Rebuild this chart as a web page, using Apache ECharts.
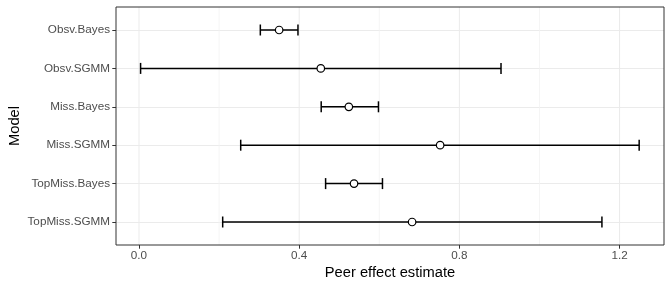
<!DOCTYPE html>
<html>
<head>
<meta charset="utf-8">
<script src="https://cdn.jsdelivr.net/npm/echarts@6/dist/echarts.min.js"></script>
<style>
html,body{margin:0;padding:0;background:#fff;}
#chart{width:672px;height:288px;}
</style>
</head>
<body>
<div id="chart"></div>
<script>
// ---- data ----
const models = ['Obsv.Bayes', 'Obsv.SGMM', 'Miss.Bayes', 'Miss.SGMM', 'TopMiss.Bayes', 'TopMiss.SGMM'];
const estimates = [0.350, 0.454, 0.524, 0.752, 0.537, 0.682];
const lowers    = [0.303, 0.004, 0.455, 0.254, 0.466, 0.209];
const uppers    = [0.397, 0.904, 0.598, 1.249, 0.608, 1.156];
const xTicks = [0.0, 0.4, 0.8, 1.2];
const xMinorTicks = [0.2, 0.6, 1.0];

// ---- layout ----
const PANEL_LEFT = 116, PANEL_TOP = 7, PANEL_W = 548, PANEL_H = 238;
const X_MIN = -0.0574, X_MAX = 1.311;
const FONT = 'Liberation Sans, Arial, Helvetica, sans-serif';

const chart = echarts.init(document.getElementById('chart'), null, {renderer: 'canvas'});

const gridLineData = xTicks.map(v => [v, 1]).concat(xMinorTicks.map(v => [v, 0]));

const option = {
  animation: false,
  backgroundColor: '#ffffff',
  grid: [
    {left: PANEL_LEFT, top: PANEL_TOP, width: PANEL_W, height: PANEL_H, containLabel: false, outerBoundsMode: 'none',
     show: true, borderColor: '#333333', borderWidth: 1, backgroundColor: 'transparent', z: 3},
    {left: PANEL_LEFT, top: 30, width: PANEL_W, height: 192, containLabel: false, outerBoundsMode: 'none'}
  ],
  xAxis: [
    {
      gridIndex: 0, type: 'value', min: X_MIN, max: X_MAX,
      name: 'Peer effect estimate', nameLocation: 'middle', nameGap: 20, nameMoveOverlap: false,
      nameTextStyle: {color: '#000', fontSize: 14.7, fontFamily: FONT},
      axisLine: {show: false, onZero: false},
      splitLine: {show: false},
      axisTick: {show: true, length: 3.7, lineStyle: {color: '#333333', width: 1}, customValues: xTicks},
      axisLabel: {show: true, customValues: xTicks, margin: 5, color: '#4D4D4D', fontSize: 11.7, fontFamily: FONT,
                  formatter: v => v.toFixed(1)}
    },
    {
      gridIndex: 1, type: 'value', min: X_MIN, max: X_MAX, show: false,
      axisLine: {onZero: false}
    }
  ],
  yAxis: [
    {gridIndex: 0, type: 'value', min: 0, max: 1, show: false, axisLine: {onZero: false}},
    {
      gridIndex: 1, type: 'category', data: models, inverse: true, boundaryGap: false,
      name: 'Model', nameLocation: 'middle', nameGap: 94, nameRotate: 90, nameMoveOverlap: false,
      nameTextStyle: {color: '#000', fontSize: 14.7, fontFamily: FONT},
      axisLine: {show: false, onZero: false},
      axisTick: {show: true, length: 3.7, interval: 0, lineStyle: {color: '#333333', width: 1}},
      axisLabel: {interval: 0, margin: 6, color: '#4D4D4D', fontSize: 11.7, fontFamily: FONT},
      splitLine: {show: true, interval: 0, lineStyle: {color: '#EBEBEB', width: 1}}
    }
  ],
  series: [
    {
      type: 'custom', xAxisIndex: 0, yAxisIndex: 0, z: 1, silent: true,
      data: gridLineData,
      renderItem: function (params, api) {
        const v = api.value(0);
        const major = api.value(1) === 1;
        const p0 = api.coord([v, 0]);
        const p1 = api.coord([v, 1]);
        return {
          type: 'line',
          shape: {x1: p0[0], y1: p0[1], x2: p1[0], y2: p1[1]},
          style: {stroke: major ? '#EBEBEB' : '#F2F2F2', lineWidth: major ? 1 : 0.8}
        };
      }
    },
    {
      type: 'custom', xAxisIndex: 1, yAxisIndex: 1, z: 5, silent: true,
      data: models.map((m, i) => [i, lowers[i], uppers[i]]),
      encode: {y: 0, x: [1, 2]},
      renderItem: function (params, api) {
        const yi = api.value(0);
        const a = api.coord([api.value(1), yi]);
        const b = api.coord([api.value(2), yi]);
        const h = 5.5;
        const st = {stroke: '#000000', lineWidth: 1.5};
        return {
          type: 'group',
          children: [
            {type: 'line', shape: {x1: a[0], y1: a[1], x2: b[0], y2: b[1]}, style: st},
            {type: 'line', shape: {x1: a[0], y1: a[1] - h, x2: a[0], y2: a[1] + h}, style: st},
            {type: 'line', shape: {x1: b[0], y1: b[1] - h, x2: b[0], y2: b[1] + h}, style: st}
          ]
        };
      }
    },
    {
      type: 'scatter', xAxisIndex: 1, yAxisIndex: 1, z: 6, silent: true,
      data: models.map((m, i) => [estimates[i], i]),
      symbol: 'circle', symbolSize: 7.5,
      itemStyle: {color: '#ffffff', borderColor: '#000000', borderWidth: 1.2, opacity: 1}
    }
  ]
};

chart.setOption(option);
</script>
</body>
</html>
